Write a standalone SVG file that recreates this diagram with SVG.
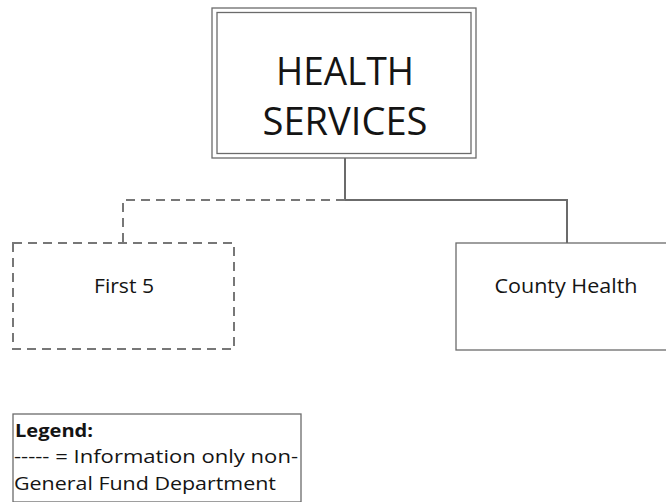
<svg xmlns="http://www.w3.org/2000/svg" width="666" height="502" viewBox="0 0 666 502">
<style>
.box{fill:#fff;stroke:#6b6b6b;stroke-width:1.3}
.dash{fill:#fff;stroke:#777;stroke-width:2;stroke-dasharray:9,6}
.ln{fill:none;stroke:#6b6b6b;stroke-width:2}
.lnd{fill:none;stroke:#777;stroke-width:2;stroke-dasharray:9,6}
text{font-family:"Open Sans","Noto Sans",sans-serif;fill:#141414}
</style>
<rect width="666" height="502" fill="#fff"/>
<g id="connectors">
<polyline class="ln" points="345,158 345,200 567,200 567,243"/>
<polyline class="lnd" points="345,200 123,200 123,243"/>
</g>
<g id="health-services">
<rect class="box" x="212" y="8" width="264" height="150"/>
<rect class="box" x="217" y="12.5" width="254" height="141"/>
<text x="345" y="85" font-size="38" text-anchor="middle" textLength="138" lengthAdjust="spacingAndGlyphs">HEALTH</text>
<text x="345" y="135" font-size="38" text-anchor="middle" textLength="165" lengthAdjust="spacingAndGlyphs">SERVICES</text>
</g>
<g id="first5">
<rect class="dash" x="13" y="243" width="221" height="106"/>
<text x="124" y="293" font-size="20" text-anchor="middle" textLength="60" lengthAdjust="spacingAndGlyphs">First 5</text>
</g>
<g id="county-health">
<rect class="box" x="456" y="243" width="215" height="107"/>
<text x="566" y="293" font-size="20" text-anchor="middle" textLength="143" lengthAdjust="spacingAndGlyphs">County Health</text>
</g>
<g id="legend">
<rect class="box" x="13" y="414" width="288" height="88" stroke-width="1"/>
<text x="15" y="437" font-size="18" font-weight="bold" textLength="78" lengthAdjust="spacingAndGlyphs">Legend:</text>
<text x="14" y="463" font-size="18" textLength="284" lengthAdjust="spacingAndGlyphs">----- = Information only non-</text>
<text x="14" y="490" font-size="18" textLength="262" lengthAdjust="spacingAndGlyphs">General Fund Department</text>
</g>
</svg>
